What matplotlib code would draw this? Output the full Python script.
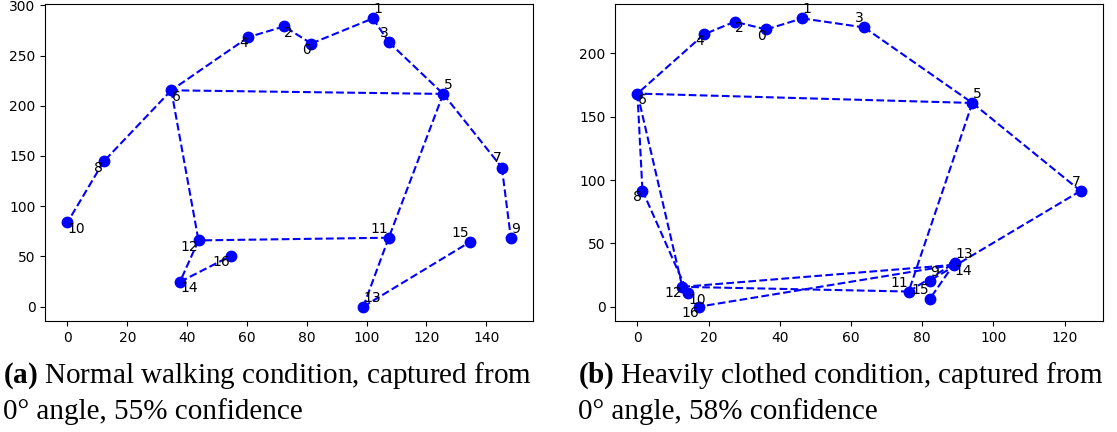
import matplotlib
matplotlib.use("Agg")
import matplotlib.pyplot as plt

# Keypoints (x, y), index = keypoint id
left_x = [81.5, 102.1, 72.4, 107.4, 60.5, 125.6, 34.7, 145.2, 12.1, 148.2, 0.0, 107.4, 43.8, 98.9, 37.6, 134.5, 54.5]
left_y = [262.0, 287.0, 279.0, 263.4, 268.4, 211.8, 215.4, 138.5, 144.5, 68.6, 83.9, 68.6, 65.9, 0.0, 24.6, 64.3, 50.3]

right_x = [36.2, 46.3, 27.3, 63.7, 18.7, 94.1, 0.0, 124.5, 1.4, 82.1, 14.2, 76.2, 12.6, 89.2, 89.0, 82.1, 17.4]
right_y = [219.0, 227.7, 225.1, 220.6, 215.1, 160.9, 168.3, 91.4, 91.7, 20.4, 10.5, 11.9, 15.6, 34.6, 33.0, 5.9, 0.0]

skeleton = [(0, 1), (0, 2), (1, 3), (2, 4), (3, 5), (4, 6), (5, 6), (5, 7), (7, 9),
            (6, 8), (8, 10), (5, 11), (6, 12), (11, 12), (11, 13), (13, 15), (12, 14), (14, 16)]

captions = [
    (r"$\mathbf{(a)}$ Normal walking condition, captured from", r"0° angle, 55% confidence"),
    (r"$\mathbf{(b)}$ Heavily clothed condition, captured from", r"0° angle, 58% confidence"),
]

plt.rcParams['mathtext.fontset'] = 'custom'
plt.rcParams['mathtext.rm'] = 'Liberation Serif'
plt.rcParams['mathtext.bf'] = 'Liberation Serif:bold'

W, H = 1117, 432
fig = plt.figure(figsize=(W / 100, H / 100), dpi=100)

ax_l = fig.add_axes([45.3 / W, (H - 321) / H, (533 - 45.3) / W, 317 / H])
ax_r = fig.add_axes([615.3 / W, (H - 321) / H, (1102.7 - 615.3) / W, 317 / H])


def draw(ax, xs, ys):
    for a, b in skeleton:
        ax.plot([xs[a], xs[b]], [ys[a], ys[b]], 'b--', lw=1.5)
    ax.plot(xs, ys, 'bo', ms=7.5, linestyle='none')
    for i, (x, y) in enumerate(zip(xs, ys)):
        right = (i % 4) in (1, 2)
        above = (i % 2) == 1
        ax.annotate(str(i), (x, y), textcoords='offset points',
                    xytext=(0.3 if right else -0.3, 6.5 if above else -4.5),
                    ha='left' if right else 'right', va='center', fontsize=10)
    ax.tick_params(labelsize=10)


draw(ax_l, left_x, left_y)
draw(ax_r, right_x, right_y)
ax_l.set_yticks([0, 50, 100, 150, 200, 250, 300])
ax_l.set_xticks([0, 20, 40, 60, 80, 100, 120, 140])
ax_r.set_yticks([0, 50, 100, 150, 200])
ax_r.set_xticks([0, 20, 40, 60, 80, 100, 120])

cap_x = [3 / W, 578 / W]
for cx, (l1, l2) in zip(cap_x, captions):
    fig.text(cx, (H - 383) / H, l1, fontsize=21, family='Liberation Serif', va='baseline')
    fig.text(cx, (H - 419) / H, l2, fontsize=21, family='Liberation Serif', va='baseline')

fig.savefig("out.png", dpi=100)
